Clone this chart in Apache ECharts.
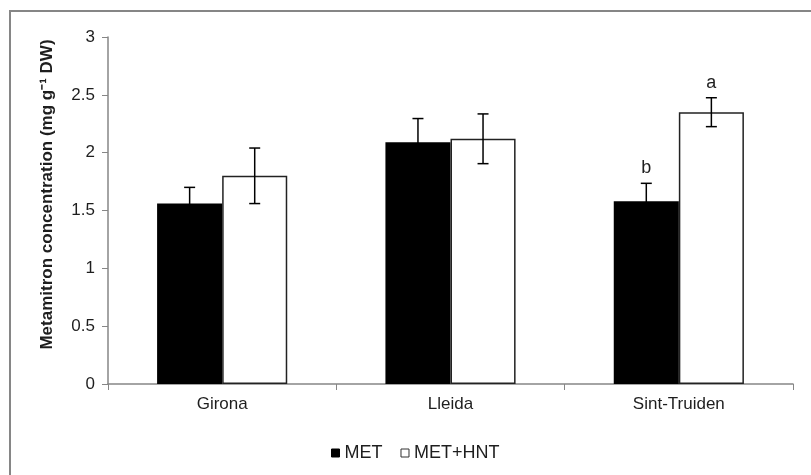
<!DOCTYPE html>
<html>
<head>
<meta charset="utf-8">
<script src="https://cdn.jsdelivr.net/npm/echarts@6/dist/echarts.min.js"></script>
<style>
html,body{margin:0;padding:0;background:#fff;}
#main{width:811px;height:475px;}
</style>
</head>
<body>
<div id="main"></div>
<script>
var categories = ['Girona', 'Lleida', 'Sint-Truiden'];
var met = [1.56, 2.09, 1.58];
var metErr = [0.14, 0.205, 0.155];
var metHnt = [1.80, 2.12, 2.35];
var metHntErr = [0.24, 0.215, 0.125];
var metLetters = ['', '', 'b'];
var metHntLetters = ['', '', 'a'];
var yTicks = [0, 0.5, 1, 1.5, 2, 2.5, 3];

var FONT = '"Liberation Sans", Arial, sans-serif';
var TXT = '#1e1e1e';
var AXIS = '#868686';
var GAP = 0.43;

function errData(vals, errs, letters) {
  return vals.map(function (v, i) { return [i, v, errs[i], letters[i]]; });
}

function makeErrRender(sign) {
  return function (params, api) {
    var idx = api.value(0);
    var v = api.value(1);
    var e = api.value(2);
    var letter = api.value(3);
    var catW = api.size([1, 0])[0];
    var barW = catW * (1 - GAP) / 2;
    var c = api.coord([idx, v]);
    var x = c[0] + sign * barW / 2;
    var top = api.coord([idx, v + e])[1];
    var bot = api.coord([idx, v - e])[1];
    var hw = 5.5;
    var st = { stroke: '#000', lineWidth: 1.5 };
    var children = [
      { type: 'line', shape: { x1: x, y1: top, x2: x, y2: bot }, style: st },
      { type: 'line', shape: { x1: x - hw, y1: top, x2: x + hw, y2: top }, style: st },
      { type: 'line', shape: { x1: x - hw, y1: bot, x2: x + hw, y2: bot }, style: st }
    ];
    if (letter) {
      children.push({
        type: 'text',
        style: {
          text: String(letter), x: x, y: top - 6,
          textAlign: 'center', textVerticalAlign: 'bottom',
          font: '18px ' + FONT, fill: TXT
        }
      });
    }
    return { type: 'group', children: children };
  };
}

var chart = echarts.init(document.getElementById('main'), null, { renderer: 'canvas' });
chart.setOption({
  animation: false,
  backgroundColor: '#fff',
  textStyle: { fontFamily: FONT },
  graphic: [{
    type: 'rect', silent: true,
    shape: { x: 10, y: 11, width: 900, height: 600 },
    style: { fill: 'none', stroke: AXIS, lineWidth: 2 }
  }],
  grid: { left: 108, right: 18, top: 37, bottom: 91, containLabel: false },
  legend: {
    left: 326, top: 439,
    itemWidth: 8, itemHeight: 8, itemGap: 18,
    textStyle: { fontSize: 18, color: TXT, fontFamily: FONT },
    data: [
      { name: 'MET', icon: 'rect', itemStyle: { color: '#000', borderColor: '#000', borderWidth: 1 } },
      { name: 'MET+HNT', icon: 'rect', itemStyle: { color: '#fff', borderColor: '#333', borderWidth: 1 } }
    ]
  },
  xAxis: {
    type: 'category',
    data: categories,
    axisLine: { lineStyle: { color: AXIS, width: 1.5 } },
    axisTick: { show: true, length: 6, lineStyle: { color: AXIS } },
    axisLabel: { color: TXT, fontSize: 17, margin: 12, fontFamily: FONT },
    splitLine: { show: false }
  },
  yAxis: {
    type: 'value',
    min: yTicks[0], max: yTicks[yTicks.length - 1], interval: 0.5,
    name: 'Metamitron concentration (mg g\u207B\u00B9 DW)',
    nameLocation: 'middle',
    nameGap: 52,
    nameTextStyle: { fontSize: 17, fontWeight: 'bold', color: TXT, fontFamily: FONT, padding: [0, 0, 0, 32] },
    axisLine: { show: true, lineStyle: { color: AXIS, width: 1.5 } },
    axisTick: { show: true, length: 6, lineStyle: { color: AXIS } },
    axisLabel: { color: TXT, fontSize: 17, margin: 13, fontFamily: FONT,
      formatter: function (v) { return String(v); } },
    splitLine: { show: false }
  },
  series: [
    {
      name: 'MET', type: 'bar', data: met,
      barGap: '0%', barCategoryGap: (GAP * 100) + '%',
      itemStyle: { color: '#000', borderColor: '#000', borderWidth: 0 }
    },
    {
      name: 'MET+HNT', type: 'bar', data: metHnt,
      barGap: '0%', barCategoryGap: (GAP * 100) + '%',
      itemStyle: { color: '#fff', borderColor: '#222', borderWidth: 1.5 }
    },
    {
      name: 'metErr', type: 'custom', z: 10,
      renderItem: makeErrRender(-1),
      encode: { x: 0, y: 1 },
      data: errData(met, metErr, metLetters),
      tooltip: { show: false }
    },
    {
      name: 'metHntErr', type: 'custom', z: 10,
      renderItem: makeErrRender(1),
      encode: { x: 0, y: 1 },
      data: errData(metHnt, metHntErr, metHntLetters),
      tooltip: { show: false }
    }
  ]
});
</script>
</body>
</html>
